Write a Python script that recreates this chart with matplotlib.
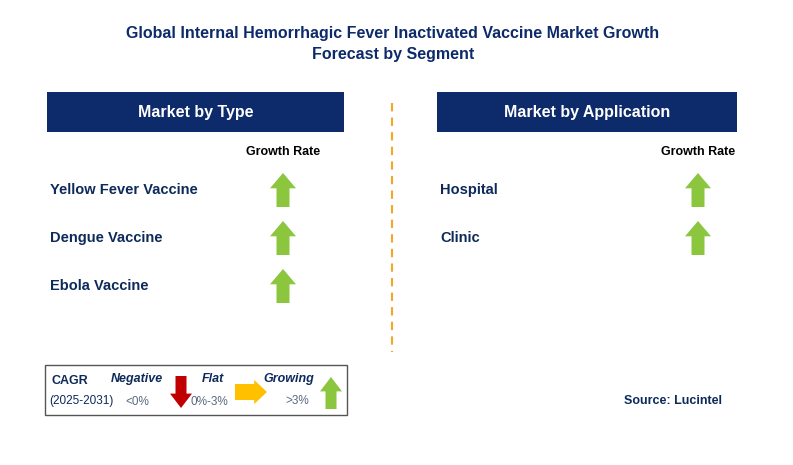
import matplotlib.pyplot as plt
from matplotlib.patches import Rectangle, Polygon

plt.rcParams["font.family"] = "Liberation Sans"

title = "Global Internal Hemorrhagic Fever Inactivated Vaccine Market Growth\nForecast by Segment"
type_labels = ["Yellow Fever Vaccine", "Dengue Vaccine", "Ebola Vaccine"]
type_trend = ["up", "up", "up"]
app_labels = ["Hospital", "Clinic"]
app_trend = ["up", "up"]

NAVY = "#0d2a6b"
GREEN = "#8cc63f"
RED = "#c00000"
AMBER = "#ffc000"
TXT = "#0d2a5a"

fig = plt.figure(figsize=(7.93, 4.65), dpi=100)
ax = fig.add_axes([0, 0, 1, 1])
ax.set_xlim(0, 793)
ax.set_ylim(465, 0)
ax.axis("off")


def arrow(cx, cy, direction, color, w=26, h=34):
    # arrow centred at cx, cy
    sw = w * 0.5
    hh = h * 0.45
    if direction == "up":
        pts = [(cx - w / 2, cy - h / 2 + hh), (cx, cy - h / 2), (cx + w / 2, cy - h / 2 + hh),
               (cx + sw / 2, cy - h / 2 + hh), (cx + sw / 2, cy + h / 2), (cx - sw / 2, cy + h / 2),
               (cx - sw / 2, cy - h / 2 + hh)]
    elif direction == "down":
        pts = [(cx - w / 2, cy + h / 2 - hh), (cx, cy + h / 2), (cx + w / 2, cy + h / 2 - hh),
               (cx + sw / 2, cy + h / 2 - hh), (cx + sw / 2, cy - h / 2), (cx - sw / 2, cy - h / 2),
               (cx - sw / 2, cy + h / 2 - hh)]
    else:
        hh = w * 0.4
        pts = [(cx + w / 2 - hh, cy - h / 2), (cx + w / 2, cy), (cx + w / 2 - hh, cy + h / 2),
               (cx + w / 2 - hh, cy + sw / 2), (cx - w / 2, cy + sw / 2), (cx - w / 2, cy - sw / 2),
               (cx + w / 2 - hh, cy - sw / 2)]
    ax.add_patch(Polygon(pts, closed=True, facecolor=color, edgecolor="none"))


ax.text(393, 44, title, ha="center", va="center", fontsize=11.5, fontweight="bold",
        color=NAVY, linespacing=1.5)

# divider
ax.plot([392, 392], [103, 352], color="#f5a623", lw=1.5, ls=(0, (4, 3)))


def panel(x0, x1, header, labels, trends, arrow_x):
    ax.add_patch(Rectangle((x0, 92), x1 - x0, 40, facecolor=NAVY, edgecolor="none"))
    ax.text((x0 + x1) / 2, 112, header, ha="center", va="center", fontsize=11.5,
            fontweight="bold", color="white")
    ax.text(arrow_x, 152, "Growth Rate", ha="center", va="center", fontsize=9,
            fontweight="bold", color="black")
    for i, (lab, tr) in enumerate(zip(labels, trends)):
        y = 190 + i * 48
        ax.text(x0 + 3, y, lab, ha="left", va="center", fontsize=10.5, fontweight="bold", color=TXT)
        arrow(arrow_x, y, tr, GREEN)


panel(47, 344, "Market by Type", type_labels, type_trend, 283)
panel(437, 737, "Market by Application", app_labels, app_trend, 698)

# legend box
ax.add_patch(Rectangle((45, 365), 302, 50, facecolor="white", edgecolor="#555555", lw=1))
ax.text(52, 381, "CAGR", fontsize=9, fontweight="bold", color=TXT, va="center")
ax.text(49, 401, "(2025-2031)", fontsize=8.5, color=TXT, va="center")
ax.text(137, 379, "Negative", fontsize=9, fontweight="bold", style="italic", color=TXT, ha="center", va="center")
ax.text(137, 402, "<0%", fontsize=8.5, color="#5a6a80", ha="center", va="center")
arrow(181, 392, "down", RED, w=22, h=32)
ax.text(213, 379, "Flat", fontsize=9, fontweight="bold", style="italic", color=TXT, ha="center", va="center")
ax.text(209, 402, "0%-3%", fontsize=8.5, color="#5a6a80", ha="center", va="center")
arrow(251, 392, "right", AMBER, w=32, h=24)
ax.text(289, 379, "Growing", fontsize=9, fontweight="bold", style="italic", color=TXT, ha="center", va="center")
ax.text(297, 401, ">3%", fontsize=8.5, color="#5a6a80", ha="center", va="center")
arrow(331, 393, "up", GREEN, w=22, h=32)

ax.text(673, 401, "Source: Lucintel", fontsize=9, fontweight="bold", color=TXT, ha="center", va="center")

fig.savefig("out.png", dpi=100)
